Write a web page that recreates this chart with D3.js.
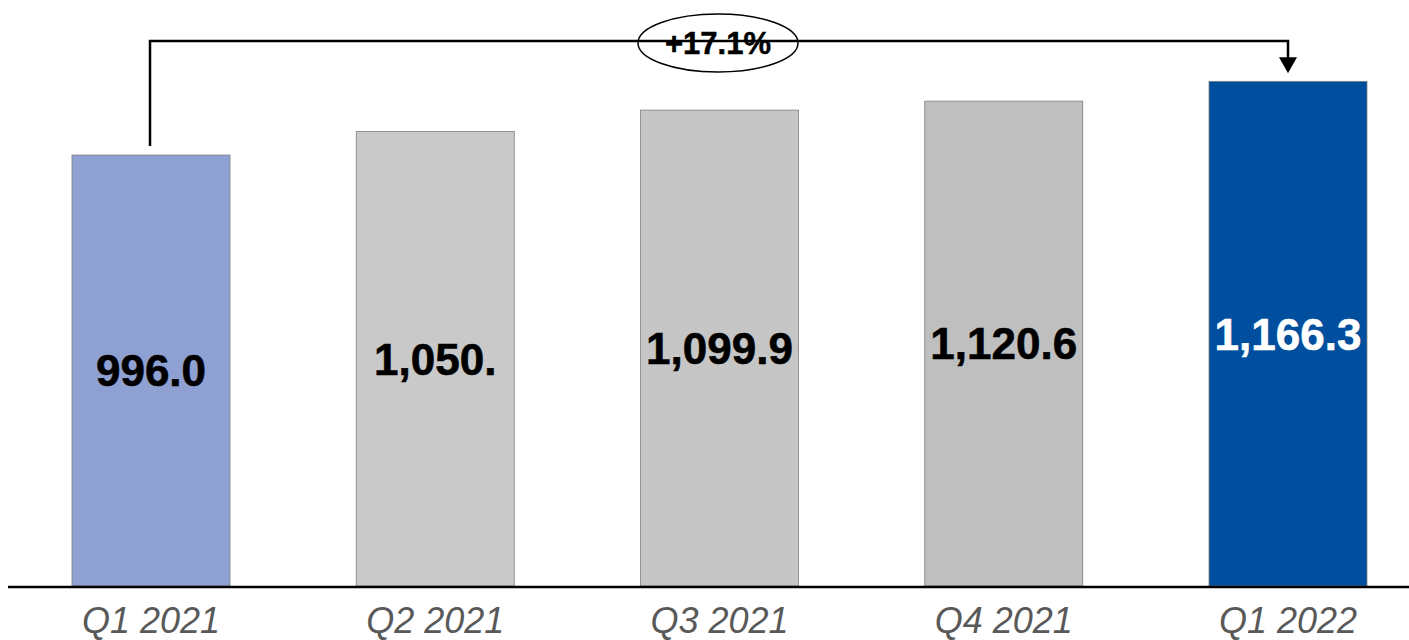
<!DOCTYPE html>
<html><head><meta charset="utf-8">
<script src="https://cdn.jsdelivr.net/npm/d3@7"></script>
<style>body{margin:0;background:#fff}svg{display:block}</style>
</head><body>
<script>
const categories = ["Q1 2021","Q2 2021","Q3 2021","Q4 2021","Q1 2022"];
const values = [996.0, 1050.4, 1099.9, 1120.6, 1166.3];
const labels = ["996.0","1,050.","1,099.9","1,120.6","1,166.3"];
const colors = ["#8FA0D2","#C9C9C9","#C6C6C6","#BFBFBF","#004F9E"];
const labelColors = ["#000","#000","#000","#000","#fff"];
const growthLabel = "+17.1%";

const W = 1409, H = 640;
const svg = d3.select("body").append("svg").attr("width", W).attr("height", H);

const x = d3.scalePoint().domain(categories).range([151, 1288]);
const y = d3.scaleLinear().domain([0, 1354.3]).range([586, 0]);
const bw = 158;

svg.selectAll("rect.bar").data(values).join("rect")
  .attr("x", (d,i) => x(categories[i]) - bw/2)
  .attr("y", d => y(d))
  .attr("width", bw)
  .attr("height", d => y(0) - y(d))
  .attr("fill", (d,i) => colors[i])
  .attr("stroke", "#7f7f7f").attr("stroke-width", 0.8);

svg.selectAll("text.val").data(values).join("text")
  .attr("x", (d,i) => x(categories[i]))
  .attr("y", d => (y(d) + y(0)) / 2)
  .attr("dy", "0.36em")
  .attr("text-anchor", "middle")
  .attr("font-family", "Liberation Sans, Arial, sans-serif")
  .attr("font-weight", "bold")
  .attr("font-size", 44)
  .attr("stroke", (d,i) => labelColors[i]).attr("stroke-width", 0.6)
  .attr("fill", (d,i) => labelColors[i])
  .text((d,i) => labels[i]);

// baseline
svg.append("line").attr("x1", 8).attr("x2", W).attr("y1", y(0)+1).attr("y2", y(0)+1)
  .attr("stroke", "#000").attr("stroke-width", 2.5);

svg.selectAll("text.cat").data(categories).join("text")
  .attr("x", d => x(d))
  .attr("y", 633)
  .attr("text-anchor", "middle")
  .attr("font-family", "Liberation Sans, Arial, sans-serif")
  .attr("font-style", "italic")
  .attr("font-size", 36)
  .attr("fill", "#595959")
  .text(d => d);

// growth annotation
const lineY = 41;
const xa = x(categories[0]) - 1, xb = x(categories[4]);
svg.append("path")
  .attr("d", `M${xa},${y(values[0]) - 9}V${lineY}H${xb}V${y(values[4]) - 22}`)
  .attr("fill", "none").attr("stroke", "#000").attr("stroke-width", 2.5);
svg.append("path")
  .attr("d", `M${xb-9},${y(values[4]) - 24}L${xb+9},${y(values[4]) - 24}L${xb},${y(values[4]) - 8}Z`)
  .attr("fill", "#000");
svg.append("ellipse").attr("cx", 718).attr("cy", 43).attr("rx", 80).attr("ry", 29)
  .attr("fill", "none").attr("stroke", "#000").attr("stroke-width", 1.5);
svg.append("text").attr("x", 718).attr("y", 43).attr("dy", "0.36em")
  .attr("text-anchor", "middle")
  .attr("font-family", "Liberation Sans, Arial, sans-serif")
  .attr("font-weight", "bold").attr("font-size", 31).attr("fill", "#000")
  .attr("stroke", "#000").attr("stroke-width", 0.5)
  .text(growthLabel);
</script>
</body></html>
